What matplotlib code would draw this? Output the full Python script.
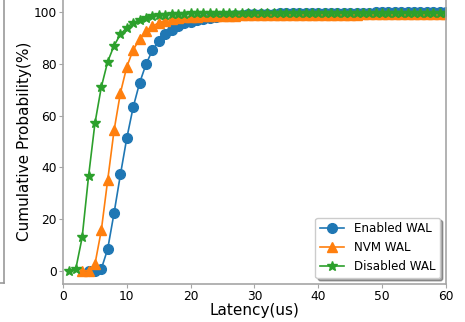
import matplotlib
matplotlib.use('Agg')
import matplotlib.pyplot as plt
from matplotlib.lines import Line2D

# latency (us) for each series
lat_enabled = list(range(4, 61))
lat_nvm = list(range(3, 61))
lat_disabled = list(range(1, 61))

# cumulative probability (%)
cdf_enabled = [0.0, 0.1, 0.8, 8.5, 22.4, 37.3, 51.4, 63.3, 72.6, 79.8,
               85.2, 88.8, 91.4, 93.1, 94.6, 95.6, 96.3, 96.9, 97.4, 97.8,
               98.1, 98.4, 98.6, 98.8, 99.0, 99.1, 99.2, 99.3, 99.4, 99.4,
               99.5, 99.5, 99.6, 99.6, 99.6, 99.7, 99.7, 99.7, 99.7, 99.8,
               99.8, 99.8, 99.8, 99.8, 99.8, 99.9, 99.9, 99.9, 99.9, 99.9,
               99.9, 99.9, 99.9, 99.9, 99.9, 99.9, 99.9]
cdf_nvm = [0.0, 0.2, 2.6, 15.7, 35.1, 54.3, 68.8, 78.9, 85.4, 89.5,
           92.6, 94.5, 95.8, 96.7, 97.2, 97.6, 97.9, 98.1, 98.2, 98.3,
           98.4, 98.5, 98.5, 98.6, 98.6, 98.7, 98.7, 98.7, 98.8, 98.8,
           98.8, 98.8, 98.9, 98.9, 98.9, 98.9, 98.9, 99.0, 99.0, 99.0,
           99.0, 99.0, 99.0, 99.0, 99.1, 99.1, 99.1, 99.1, 99.1, 99.1,
           99.1, 99.1, 99.1, 99.1, 99.1, 99.1, 99.1, 99.1]
cdf_disabled = [0.0, 0.8, 13.0, 36.5, 57.0, 71.0, 80.8, 87.0, 91.4, 94.0,
                95.9, 97.0, 97.8, 98.3, 98.7, 99.0, 99.2, 99.3, 99.4, 99.5,
                99.5, 99.6, 99.6, 99.6, 99.7, 99.7, 99.7, 99.7, 99.7, 99.7,
                99.7, 99.7, 99.7, 99.7, 99.7, 99.7, 99.7, 99.7, 99.7, 99.7,
                99.7, 99.7, 99.7, 99.7, 99.7, 99.7, 99.7, 99.7, 99.7, 99.7,
                99.7, 99.7, 99.7, 99.7, 99.7, 99.7, 99.7, 99.7, 99.7, 99.7]

plt.rcParams['font.size'] = 8.8

fig = plt.figure(figsize=(4.65, 3.22), dpi=100)
ax = fig.add_axes([0.1355, 0.118, 0.8235, 0.885])

ax.plot(lat_enabled, cdf_enabled, label='Enabled WAL', marker='o', markersize=7, linewidth=1.2)
ax.plot(lat_nvm, cdf_nvm, label='NVM WAL', marker='^', markersize=7, linewidth=1.2)
ax.plot(lat_disabled, cdf_disabled, label='Disabled WAL', marker='*', markersize=7, linewidth=1.2)

ax.set_xlim(0, 60)
ax.set_ylim(-5, 105)
ax.set_xlabel('Latency(us)', fontsize=11, labelpad=0)
ax.set_ylabel('Cumulative Probability(%)', fontsize=11, labelpad=1)
for s in ax.spines.values():
    s.set_color('0.65')
    s.set_linewidth(1.2)
ax.tick_params(color='0.65', length=3, pad=1.5)
ax.legend(loc='lower right', shadow=True, borderpad=0.4, fontsize=8.6)

# edge of the neighbouring panel
fig.add_artist(Line2D([0.0086, 0.0086], [0.12, 1.0], color='0.6', linewidth=1.2))
fig.add_artist(Line2D([0.0, 0.0086], [0.12, 0.12], color='0.6', linewidth=1.2))

plt.savefig('out.png')
